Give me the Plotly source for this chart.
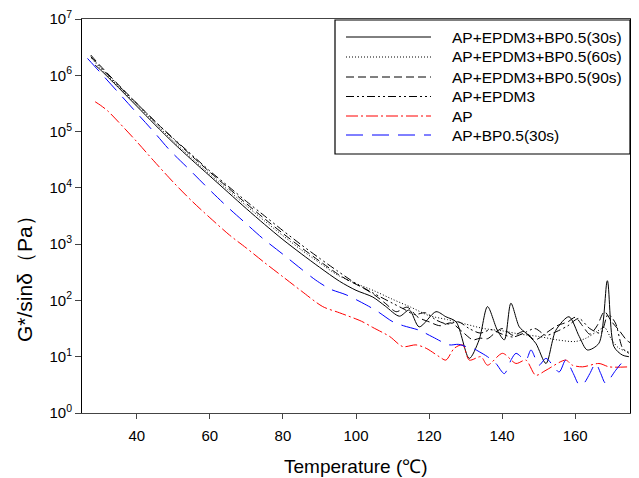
import plotly.graph_objects as go

# ---- data: temperature (°C) and log10 of G*/sinδ (Pa) ----
t_30s = [28.6, 30, 35, 40, 45, 50, 55, 60, 65, 70, 75, 80, 85, 90, 95.5, 100, 104.6, 108, 111.9,
         114.6, 117.3, 121.9, 124.6, 127.4, 131.0, 133.7, 136.0, 138.7, 140.6, 142.4, 144.7, 146.5,
         149.2, 152.0, 154.7, 158.3, 161.1, 163.3, 166.5, 168.8, 170.6, 172.9, 174.7]
g_30s_log10 = [6.18, 6.10, 5.78, 5.45, 5.12, 4.80, 4.50, 4.21, 3.92, 3.63, 3.35, 3.08, 2.83, 2.59, 2.34,
               2.18, 2.06, 1.90, 1.72, 1.83, 1.53, 1.80, 1.71, 1.62, 0.97, 1.30, 1.89, 1.47, 1.30, 1.95,
               1.53, 1.42, 1.24, 0.88, 1.47, 1.71, 1.36, 1.12, 1.24, 2.35, 1.18, 1.03, 1.00]

t_60s = [27.6, 30, 35, 40, 45, 50, 55, 60, 65, 70, 75, 80, 85, 90, 95, 100, 105, 110, 115, 120,
         125, 130, 135, 140, 145, 150, 155, 160, 163, 166, 168, 170, 172, 175]
g_60s_log10 = [6.30, 6.13, 5.80, 5.47, 5.15, 4.83, 4.53, 4.24, 3.96, 3.68, 3.41, 3.15, 2.90, 2.67,
               2.45, 2.30, 2.17, 2.02, 1.88, 1.73, 1.66, 1.58, 1.50, 1.46, 1.40, 1.36, 1.30, 1.27,
               1.33, 1.45, 1.52, 1.30, 1.15, 1.08]

t_90s = [27.4, 30, 35, 40, 45, 50, 55, 60, 65, 70, 75, 80, 85, 90, 95, 97.8, 102, 105, 108, 111,
         114, 117, 120, 123, 126, 129, 132, 134, 136, 138, 140, 143, 146, 149, 152, 155, 158, 160,
         162, 164, 166, 168, 170, 172, 174, 175]
g_90s_log10 = [6.36, 6.17, 5.83, 5.50, 5.18, 4.87, 4.57, 4.28, 4.00, 3.72, 3.45, 3.19, 2.94, 2.70,
               2.47, 2.36, 2.22, 2.10, 1.95, 1.80, 1.88, 1.70, 1.62, 1.55, 1.60, 1.45, 1.30, 1.33,
               1.32, 1.42, 1.50, 1.38, 1.45, 1.30, 1.42, 1.55, 1.62, 1.70, 1.55, 1.40, 1.55, 1.80,
               1.62, 1.47, 1.30, 1.25]

t_epdm = [27.4, 30, 35, 40, 45, 50, 55, 60, 65, 70, 75, 80, 85, 90, 95, 100, 105, 110, 113, 116,
          119, 122, 125, 128, 131, 134, 137, 140, 143, 146, 149, 152, 155, 158, 161, 164, 167, 169,
          171, 173, 175]
g_epdm_log10 = [6.33, 6.15, 5.82, 5.50, 5.18, 4.88, 4.59, 4.30, 4.03, 3.76, 3.50, 3.24, 2.99, 2.75,
                2.52, 2.30, 2.12, 1.95, 1.85, 1.75, 1.78, 1.65, 1.58, 1.62, 1.50, 1.42, 1.48, 1.40,
                1.35, 1.42, 1.50, 1.38, 1.45, 1.55, 1.68, 1.50, 1.42, 1.75, 1.60, 1.15, 1.05]

t_ap = [28.6, 30, 32, 35, 40, 44.5, 50, 55, 60, 65.4, 70, 75, 80, 85, 90.9, 95.5, 101.5, 104.6,
        109.2, 112.8, 116.4, 119.2, 122.8, 124.6, 126.9, 129.2, 131.0, 134.2, 136.0, 140.1, 143.8,
        146.5, 149.2, 152.0, 157.4, 159.2, 162.0, 166.5, 169.3, 174.7]
g_ap_log10 = [5.53, 5.47, 5.37, 5.17, 4.82, 4.49, 4.10, 3.77, 3.47, 3.16, 2.93, 2.67, 2.42, 2.17,
              1.89, 1.78, 1.63, 1.52, 1.36, 1.18, 1.21, 1.15, 1.00, 0.94, 1.15, 1.21, 0.94, 1.00,
              0.85, 1.06, 0.88, 0.94, 0.67, 0.76, 0.94, 0.85, 0.82, 0.88, 0.82, 0.82]

t_bp = [26.5, 30, 35, 40, 45, 49, 54, 60, 65, 70, 74.5, 80, 85, 89, 93, 97.3, 102.8, 106, 110.1,
        113, 117.3, 121, 125.5, 128, 130.1, 132, 133.7, 136, 138.3, 140.6, 142.5, 143.8, 146.5,
        147.9, 150.1, 152.0, 155.6, 157.4, 159.5, 161.1, 162.4, 164, 165.6, 167, 168.3, 171.1,
        173, 174.7]
g_bp_log10 = [6.30, 6.05, 5.69, 5.33, 4.97, 4.67, 4.35, 3.96, 3.65, 3.36, 3.10, 2.82, 2.56, 2.36,
              2.20, 2.10, 1.92, 1.80, 1.62, 1.55, 1.47, 1.35, 1.21, 1.22, 1.18, 1.15, 1.09, 1.00,
              0.88, 0.70, 0.95, 1.06, 0.94, 1.12, 0.85, 0.97, 0.73, 0.94, 0.70, 0.50, 0.53, 0.70,
              0.88, 0.70, 0.53, 0.76, 0.90, 0.91]

series_names = ["AP+EPDM3+BP0.5(30s)", "AP+EPDM3+BP0.5(60s)", "AP+EPDM3+BP0.5(90s)",
                "AP+EPDM3", "AP", "AP+BP0.5(30s)"]
series_t = [t_30s, t_60s, t_90s, t_epdm, t_ap, t_bp]
series_g = [g_30s_log10, g_60s_log10, g_90s_log10, g_epdm_log10, g_ap_log10, g_bp_log10]
series_color = ["black", "black", "black", "black", "red", "blue"]
series_dash = ["solid", "1px,2px", "8px,4px", "8px,3px,2px,3px,2px,3px", "12px,3px,2px,3px", "17px,9px"]

x_ticks = [40, 60, 80, 100, 120, 140, 160]
y_exps = [0, 1, 2, 3, 4, 5, 6, 7]

FONT = "Arial, Liberation Sans, sans-serif"

# plot-area geometry in pixels
W, H = 639, 478
L, R, T, B = 82, 9, 19, 65
PW, PH = W - L - R, H - T - B


def px(xp):
    return (xp - L) / PW


def py(yp):
    return (H - B - yp) / PH


fig = go.Figure()
for name, t, lg, color, dash in zip(series_names, series_t, series_g, series_color, series_dash):
    fig.add_trace(go.Scatter(
        x=t, y=[10 ** v for v in lg], name=name, mode="lines", showlegend=False,
        line=dict(color=color, width=1, dash=dash, shape="spline", smoothing=0.8),
    ))

# legend drawn as a framed box (layout decoration)
shapes = [dict(type="rect", xref="paper", yref="paper", x0=px(335), x1=px(630), y0=py(154), y1=py(20),
               line=dict(color="black", width=1.2), fillcolor="white", layer="above")]
annotations = []
row_y = [37, 57, 77, 96.5, 116, 135]
for i, name in enumerate(series_names):
    shapes.append(dict(type="line", xref="paper", yref="paper", x0=px(346), x1=px(431),
                       y0=py(row_y[i]), y1=py(row_y[i]), layer="above",
                       line=dict(color=series_color[i], width=1, dash=series_dash[i])))
    annotations.append(dict(text=name, xref="paper", yref="paper", x=px(450), y=py(row_y[i]),
                            xanchor="left", yanchor="middle", showarrow=False,
                            font=dict(family=FONT, size=15.5, color="black")))

annotations += [
    dict(text="Temperature (℃)", xref="paper", yref="paper", x=0.5, y=py(466),
         xanchor="center", yanchor="middle", showarrow=False,
         font=dict(family=FONT, size=19)),
    dict(text="G*/sinδ（Pa）", xref="paper", yref="paper", x=px(24), y=py(274),
         xanchor="center", yanchor="middle", showarrow=False, textangle=-90,
         font=dict(family=FONT, size=21)),
]

fig.update_layout(
    width=W, height=H,
    margin=dict(l=L, r=R, t=T, b=B),
    paper_bgcolor="white", plot_bgcolor="white",
    font=dict(family=FONT, size=15, color="black"),
    showlegend=False,
    xaxis=dict(
        range=[25, 175], tickvals=x_ticks, ticktext=[str(v) for v in x_ticks],
        ticks="outside", ticklen=5, tickcolor="#444", showline=True, linecolor="#444",
        linewidth=1, mirror=True, showgrid=False, zeroline=False,
        tickfont=dict(family=FONT, size=15), ticklabelstandoff=4,
    ),
    yaxis=dict(
        type="log", range=[0, 7], tickvals=[10 ** e for e in y_exps],
        ticktext=["10<sup>%d</sup>" % e for e in y_exps],
        ticks="outside", ticklen=6, tickcolor="#444", showline=True, linecolor="black",
        linewidth=1, mirror=True, showgrid=False, zeroline=False,
        tickfont=dict(family=FONT, size=15),
    ),
    shapes=shapes,
    annotations=annotations,
)

fig.write_html("out.html")
